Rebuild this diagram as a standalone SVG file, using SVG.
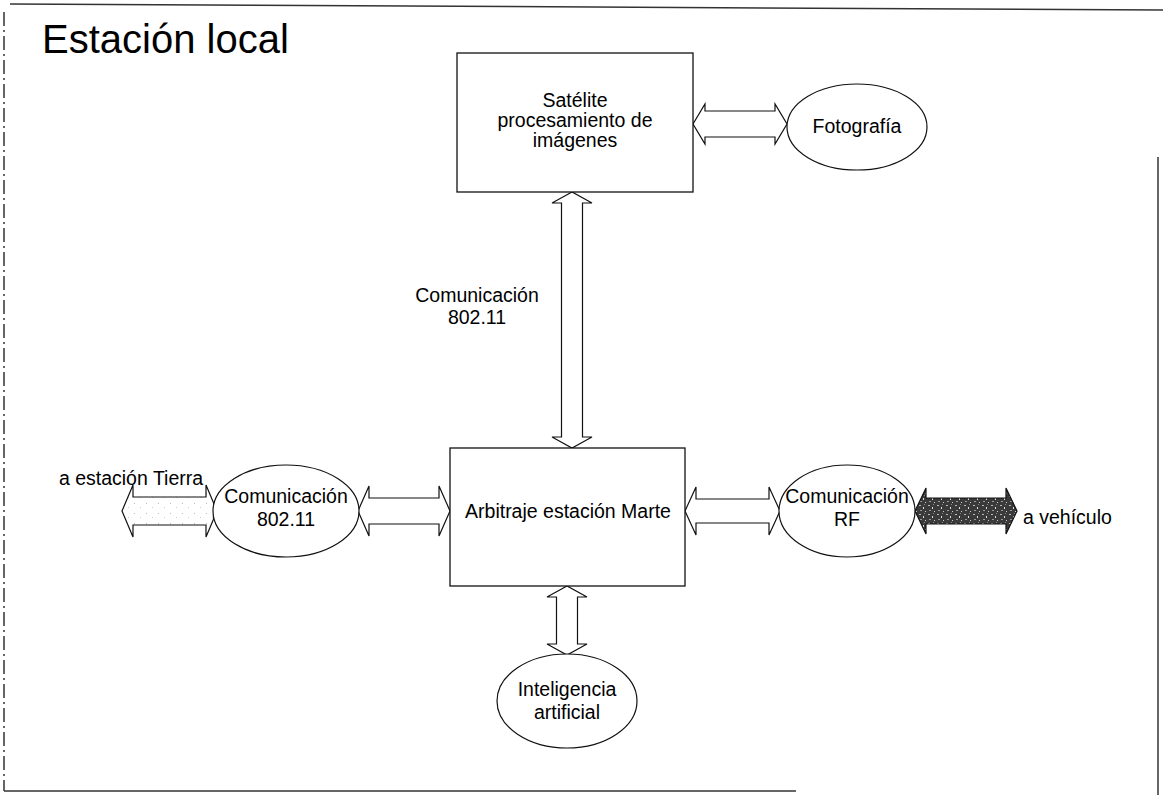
<svg xmlns="http://www.w3.org/2000/svg" width="1163" height="795" viewBox="0 0 1163 795">
  <defs>
    <pattern id="dark" width="9" height="9" patternUnits="userSpaceOnUse">
      <rect width="9" height="9" fill="#3a3a3a"/>
      <rect x="1" y="1" width="2" height="1" fill="#bbb"/>
      <rect x="5" y="3" width="1" height="2" fill="#ddd"/>
      <rect x="2" y="6" width="2" height="1" fill="#999"/>
      <rect x="7" y="7" width="1" height="1" fill="#ccc"/>
      <rect x="6" y="0" width="1" height="1" fill="#888"/>
    </pattern>
    <pattern id="light" width="12" height="10" patternUnits="userSpaceOnUse">
      <rect width="12" height="10" fill="#fff"/>
      <rect x="2" y="3" width="1" height="1" fill="#bbb"/>
      <rect x="8" y="7" width="1" height="1" fill="#ccc"/>
    </pattern>
  </defs>
  <style>
    .box { fill: #fff; stroke: #111; stroke-width: 1.3; }
    .ell { fill: #fff; stroke: #111; stroke-width: 1.2; }
    .arr { fill: #fff; stroke: #111; stroke-width: 1.2; stroke-linejoin: miter; }
    .frame { stroke: #333; stroke-width: 1.5; fill: none; }
    text { font-family: "Liberation Sans", Arial, sans-serif; fill: #000; }
    .lbl { font-size: 19.5px; text-anchor: middle; }
    .title { font-size: 40px; }
  </style>

  <g id="frame">
    <line class="frame" x1="10" y1="4" x2="1163" y2="10"/>
    <line class="frame" x1="4" y1="12" x2="4" y2="791" stroke="#777" stroke-dasharray="14 4 2 4"/>
    <line class="frame" x1="4" y1="791" x2="796" y2="791"/>
    <line class="frame" x1="1158" y1="157" x2="1158" y2="795"/>
  </g>

  <text id="title" class="title" x="42" y="53">Estación local</text>

  <g id="connectors">
    <polygon class="arr" points="693,124 705,104 705,111 775,111 775,104 787,124 775,144 775,137 705,137 705,144"/>
    <polygon class="arr" points="572,192 552,203 561.5,203 561.5,437 552,437 572,448 592,437 582.5,437 582.5,203 592,203"/>
    <polygon class="arr" style="fill:url(#light)" points="122,511 133,485 133,497 206,497 206,485 217,511 206,537 206,525 133,525 133,537"/>
    <polygon class="arr" points="358,511 369,486 369,498 439,498 439,486 450,511 439,536 439,524 369,524 369,536"/>
    <polygon class="arr" points="685,511 696,487 696,499 769,499 769,487 780,511 769,535 769,523 696,523 696,535"/>
    <polygon class="arr" style="fill:url(#dark)" points="915,511 926,488 926,498 1006,498 1006,488 1017,511 1006,534 1006,524 926,524 926,534"/>
    <polygon class="arr" points="567,586 547,597 556.5,597 556.5,644 547,644 567,655 587,644 577.5,644 577.5,597 587,597"/>
    <text class="lbl" x="477" y="302">Comunicación</text>
    <text class="lbl" x="477" y="324">802.11</text>
    <text class="lbl" x="131" y="485">a estación Tierra</text>
    <text x="1023" y="524" style="font-size:19.5px">a vehículo</text>
  </g>

  <g id="satelite">
    <rect class="box" x="457" y="53" width="236" height="139"/>
    <text class="lbl" x="575" y="107">Satélite</text>
    <text class="lbl" x="575" y="127">procesamiento de</text>
    <text class="lbl" x="575" y="147">imágenes</text>
  </g>

  <g id="fotografia">
    <ellipse class="ell" cx="857" cy="127" rx="70" ry="43"/>
    <text class="lbl" x="857" y="133">Fotografía</text>
  </g>

  <g id="arbitraje">
    <rect class="box" x="450" y="448" width="235" height="138"/>
    <text class="lbl" x="568" y="518">Arbitraje estación Marte</text>
  </g>

  <g id="com80211">
    <ellipse class="ell" cx="286" cy="511" rx="73" ry="46"/>
    <text class="lbl" x="286" y="503">Comunicación</text>
    <text class="lbl" x="286" y="526">802.11</text>
  </g>

  <g id="comRF">
    <ellipse class="ell" cx="847" cy="511" rx="68" ry="46"/>
    <text class="lbl" x="847" y="503">Comunicación</text>
    <text class="lbl" x="847" y="526">RF</text>
  </g>

  <g id="ia">
    <ellipse class="ell" cx="567" cy="701" rx="70" ry="47"/>
    <text class="lbl" x="567" y="696">Inteligencia</text>
    <text class="lbl" x="567" y="719">artificial</text>
  </g>
</svg>
